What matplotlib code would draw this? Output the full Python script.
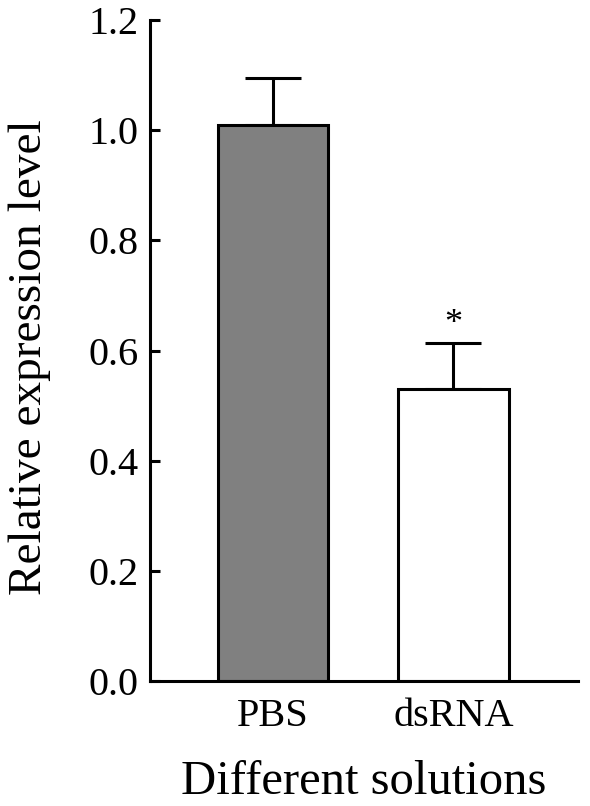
import numpy as np
import matplotlib
matplotlib.use("Agg")
import matplotlib.pyplot as plt

plt.rcParams['font.family'] = ['Liberation Serif', 'DejaVu Serif']

# data
groups = ["PBS", "dsRNA"]
values = [1.01, 0.53]
errors = [0.085, 0.083]
colors = ["#808080", "#ffffff"]
marks = ["", "*"]

fig = plt.figure(figsize=(5.9, 8.06), dpi=100)
ax = fig.add_axes([0.254, 0.155, 0.726, 0.82])

x = np.arange(len(groups))
ax.bar(x, values, width=0.61, color=colors, edgecolor="black", linewidth=2.2, zorder=2)
ax.errorbar(x, values, yerr=[np.zeros(len(errors)), errors], fmt="none",
            ecolor="black", elinewidth=2.2, capsize=20, capthick=2.2, zorder=1)

for xi, v, e, m in zip(x, values, errors, marks):
    if m:
        ax.text(xi, v + e + 0.004, m, ha="center", va="bottom", fontsize=26)

ax.set_xlim(-0.68, 1.69)
ax.set_ylim(0, 1.2)
ax.set_yticks(np.arange(0, 1.21, 0.2))
ax.set_yticklabels([f"{t:.1f}" for t in np.arange(0, 1.21, 0.2)])
ax.set_xticks(x)
ax.set_xticklabels(groups)

ax.spines["top"].set_visible(False)
ax.spines["right"].set_visible(False)
ax.spines["left"].set_linewidth(2.2)
ax.spines["bottom"].set_linewidth(2.2)

ax.tick_params(axis="y", direction="in", length=7, width=2.2, labelsize=29, pad=8)
ax.tick_params(axis="x", direction="in", length=3, width=2, labelsize=29, pad=12)

ax.set_ylabel("Relative expression level", fontsize=34)
ax.yaxis.set_label_coords(-0.23, 0.49)
ax.set_xlabel("Different solutions", fontsize=35, labelpad=18)

fig.savefig("out.png", dpi=100)
